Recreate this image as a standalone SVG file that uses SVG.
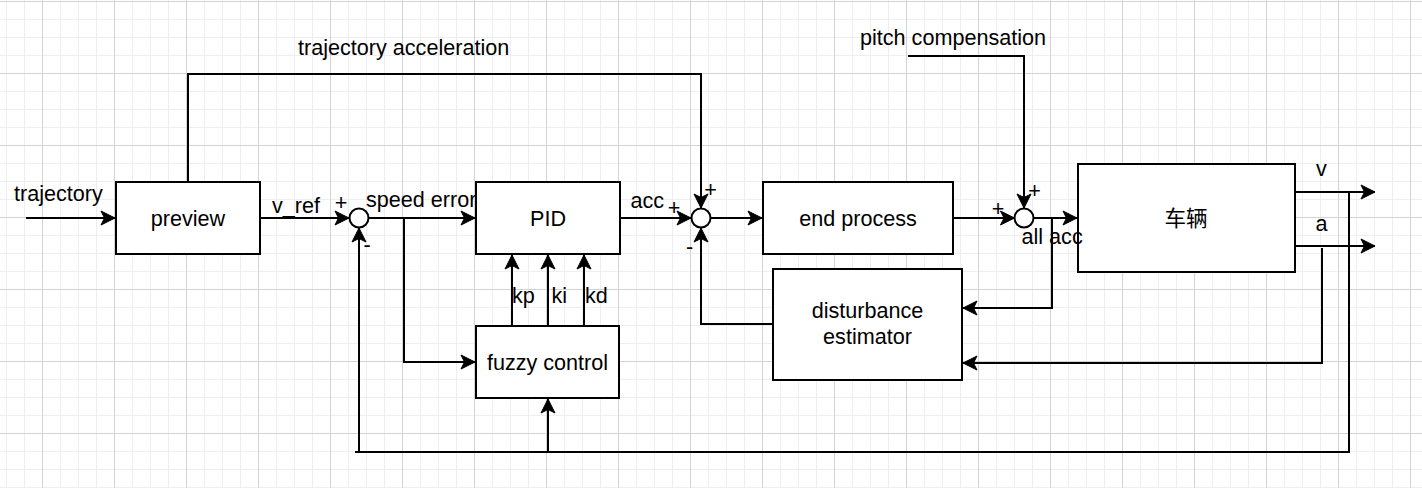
<svg xmlns="http://www.w3.org/2000/svg" width="1422" height="488" viewBox="0 0 1422 488">
<style>
.box{fill:#fff;stroke:#000;stroke-width:2}
.sum{fill:#fff;stroke:#000;stroke-width:2}
.ln{fill:none;stroke:#000;stroke-width:2}
.t{font-family:"Liberation Sans",Arial,"Noto Sans CJK SC",sans-serif;font-size:21.6px;fill:#000}
.c{text-anchor:middle}
.cjk{font-family:"Noto Sans CJK SC","Liberation Sans",sans-serif;font-size:21.6px;fill:#000;text-anchor:middle}
</style>
<defs>
<pattern id="minor" patternUnits="userSpaceOnUse" x="6" y="1" width="18" height="18">
<rect x="0" y="0" width="18" height="1" fill="#eeeeee"/>
<rect x="0" y="0" width="1" height="18" fill="#eeeeee"/>
</pattern>
<pattern id="major" patternUnits="userSpaceOnUse" x="42" y="1" width="72" height="72">
<rect x="0" y="0" width="72" height="1" fill="#d3d3d3"/>
<rect x="0" y="0" width="1" height="72" fill="#d3d3d3"/>
</pattern>
<marker id="arr" markerUnits="userSpaceOnUse" markerWidth="16" markerHeight="16" viewBox="0 0 16 16" refX="15" refY="8" orient="auto">
<path d="M1,1 L15,8 L1,15 L4.5,8 Z" fill="#000" stroke="#000" stroke-width="1"/>
</marker>
</defs>
<rect width="1422" height="488" fill="#fff"/>
<rect width="1422" height="488" fill="url(#minor)"/>
<rect width="1422" height="488" fill="url(#major)"/>

<g id="connectors">
<path class="ln" d="M26,218 H115" marker-end="url(#arr)"/>
<path class="ln" d="M260,218 H349" marker-end="url(#arr)"/>
<path class="ln" d="M368.5,218 H475" marker-end="url(#arr)"/>
<path class="ln" d="M404,218 V362 H475" marker-end="url(#arr)"/>
<path class="ln" d="M512,326 V255" marker-end="url(#arr)"/>
<path class="ln" d="M548,326 V255" marker-end="url(#arr)"/>
<path class="ln" d="M584,326 V255" marker-end="url(#arr)"/>
<path class="ln" d="M620,218 H691" marker-end="url(#arr)"/>
<path class="ln" d="M188,182 V74 H701 V208" marker-end="url(#arr)"/>
<path class="ln" d="M773,324 H701 V228" marker-end="url(#arr)"/>
<path class="ln" d="M710.5,218 H762" marker-end="url(#arr)"/>
<path class="ln" d="M953,218 H1014.5" marker-end="url(#arr)"/>
<path class="ln" d="M908,56 H1024 V208" marker-end="url(#arr)"/>
<path class="ln" d="M1033.5,218 H1077" marker-end="url(#arr)"/>
<path class="ln" d="M1052,218 V308 H963" marker-end="url(#arr)"/>
<path class="ln" d="M1295,192 H1375" marker-end="url(#arr)"/>
<path class="ln" d="M1295,246 H1375" marker-end="url(#arr)"/>
<path class="ln" d="M1322,248 V363 H963" marker-end="url(#arr)"/>
<path class="ln" d="M1349,193 V452 H359 V228" marker-end="url(#arr)"/>
<path class="ln" d="M355,452 H360"/>
<path class="ln" d="M548,452 V399" marker-end="url(#arr)"/>
<text class="t" x="14" y="201">trajectory</text>
<text class="t" x="272" y="212.5">v_ref</text>
<text class="t" x="366" y="207">speed error</text>
<text class="t" x="630.5" y="207.5">acc</text>
<text class="t" x="298" y="55">trajectory acceleration</text>
<text class="t" x="860" y="45">pitch compensation</text>
<text class="t" x="512" y="302.5">kp</text>
<text class="t" x="551.5" y="302.5">ki</text>
<text class="t" x="585" y="302.5">kd</text>
<text class="t c" x="341" y="210">+</text>
<text class="t c" x="367" y="252">-</text>
<text class="t c" x="674" y="215">+</text>
<text class="t c" x="710.5" y="197">+</text>
<text class="t c" x="689.5" y="254">-</text>
<text class="t c" x="998" y="215.5">+</text>
<text class="t c" x="1034.5" y="197.5">+</text>
<text class="t c" x="1321.5" y="176">v</text>
<text class="t c" x="1321.5" y="231">a</text>
</g>

<g id="sum1"><circle class="sum" cx="359" cy="218" r="9.5"/></g>
<g id="sum2"><circle class="sum" cx="701" cy="218" r="9.5"/></g>
<g id="sum3"><circle class="sum" cx="1024" cy="218" r="9.5"/></g>

<g id="preview">
<rect class="box" x="116" y="182" width="144" height="72"/>
<text class="t c" x="188" y="225.5">preview</text>
</g>
<g id="pid">
<rect class="box" x="476" y="182" width="144" height="72"/>
<text class="t c" x="548" y="225.5">PID</text>
</g>
<g id="fuzzy">
<rect class="box" x="476" y="326" width="143" height="72"/>
<text class="t c" x="547.5" y="369.5">fuzzy control</text>
</g>
<g id="endprocess">
<rect class="box" x="763" y="182" width="190" height="72"/>
<text class="t c" x="858" y="225.5">end process</text>
</g>
<g id="disturbance">
<rect class="box" x="773" y="269" width="189" height="111"/>
<text class="t c" x="867.5" y="318">disturbance</text>
<text class="t c" x="867.5" y="344">estimator</text>
</g>
<g id="vehicle">
<rect class="box" x="1078" y="164" width="217" height="108"/>
<text class="cjk" x="1186" y="226">车辆</text>
</g>

<g id="labels">
<text class="t" x="1021.5" y="243.5">all acc</text>
</g>
</svg>
